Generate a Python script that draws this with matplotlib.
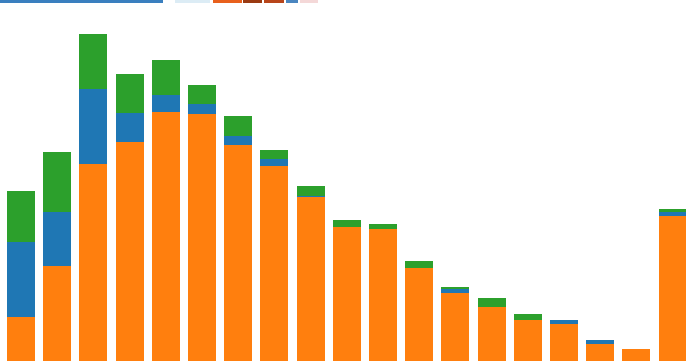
import matplotlib
matplotlib.use("Agg")
from matplotlib import pyplot as plt
from matplotlib.patches import Rectangle
import numpy as np

# stacked values per bar (bottom -> top)
orange = [44, 95, 197, 219, 249, 247, 216, 195, 164, 134, 132, 93, 68, 54, 41, 37, 17, 12, 145]
blue = [75, 54, 75, 29, 17, 10, 9, 7, 1, 0, 0, 0, 4, 0, 0, 4, 4, 0, 4]
green = [51, 60, 55, 39, 35, 19, 20, 9, 10, 7, 5, 7, 2, 9, 6, 0, 0, 0, 3]

x = np.arange(len(orange))
orange = np.array(orange)
blue = np.array(blue)
green = np.array(green)

fig = plt.figure(figsize=(6.86, 3.61), dpi=100)
ax = fig.add_axes([0, 0, 1, 1])

w = 0.77
ax.bar(x, orange, width=w, color='#ff7f0e')
ax.bar(x, blue, width=w, bottom=orange, color='#1f77b4')
ax.bar(x, green, width=w, bottom=orange + blue, color='#2ca02c')

ax.set_xlim(-0.58, 18.37)
ax.set_ylim(0, 361)
ax.axis('off')

# cropped strip of the legend/toolbar above the chart
strip = [(0, 163, '#3a7fbf'), (175, 35, '#dcecf5'), (213, 29, '#e8601c'),
         (243, 19, '#9a3a12'), (264, 20, '#b8451a'), (286, 12, '#4a86c0'),
         (300, 18, '#f4d8d8')]
for x0, wd, c in strip:
    fig.add_artist(Rectangle((x0 / 686, 1 - 3 / 361), wd / 686, 3 / 361,
                             transform=fig.transFigure, color=c, lw=0))

fig.savefig('out.png', dpi=100)
